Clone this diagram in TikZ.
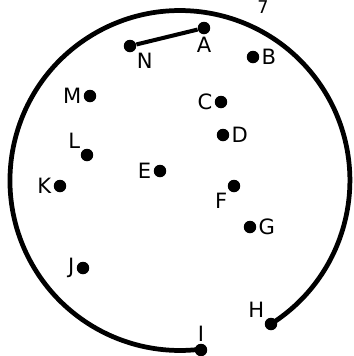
\documentclass[tikz,border=0pt]{standalone}
\usepackage{fontspec}
\setmainfont{DejaVu Sans}
\usetikzlibrary{positioning}

\begin{document}
\begin{tikzpicture}[
    x=0.02cm, y=-0.02cm,
    every node/.style={font=\fontsize{12}{14}\selectfont},
    pt/.style={circle, fill=black, inner sep=0pt, minimum size=0.25cm},
    lbl/.style={inner sep=1pt},
    edge/.style={line width=2.3pt},
    rim/.style={line width=2.7pt}
]
\useasboundingbox (0,0) rectangle (353,356);
\node[pt, label={[lbl]below:A}] (A) at (204,28) {};
\node[pt, label={[lbl]right:B}] (B) at (253,57) {};
\node[pt, label={[lbl]left:C}] (C) at (221,102) {};
\node[pt, label={[lbl]right:D}] (D) at (223,135) {};
\node[pt, label={[lbl]left:E}] (E) at (160,171) {};
\node[pt, label={[lbl]below left=0pt and -2pt:F}] (F) at (234,186) {};
\node[pt, label={[lbl]right:G}] (G) at (250,227) {};
\node[pt, label={[lbl]above left=0pt and -1pt:H}] (H) at (271,324) {};
\node[pt, label={[lbl]above=2pt:I}] (I) at (201,350) {};
\node[pt, label={[lbl]left:J}] (J) at (83,268) {};
\node[pt, label={[lbl]left:K}] (K) at (60,186) {};
\node[pt, label={[lbl]above left=-2pt and 0pt:L}] (L) at (87,155) {};
\node[pt, label={[lbl]left:M}] (M) at (90,96) {};
\node[pt, label={[lbl]below right=1pt and -4pt:N}] (N) at (130,46) {};
\node[inner sep=0pt, font=\fontsize{10}{11}\selectfont] (tick) at (263,7) {7};
% rim of the circle, from H round to I
\draw[rim] (H.center) arc[start angle=-57.6, end angle=277, radius=3.4cm];
\draw[edge] (N) -- (A);
\end{tikzpicture}
\end{document}
